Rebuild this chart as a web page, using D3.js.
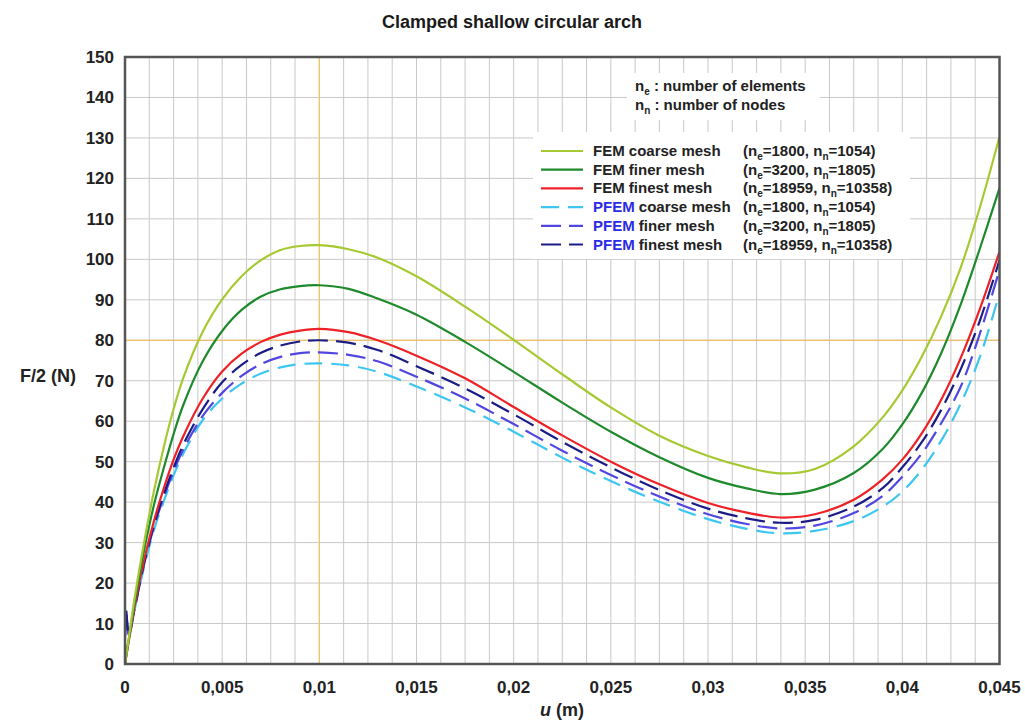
<!DOCTYPE html>
<html>
<head>
<meta charset="utf-8">
<script src="https://cdn.jsdelivr.net/npm/d3@7/dist/d3.min.js"></script>
<style>
  body { margin: 0; background: #fff; }
  svg { display: block; font-family: Arial, "Liberation Sans", sans-serif; }
</style>
</head>
<body>
<div id="chart"></div>
<script>
// displacement u (m) shared by all curves
const uGrid = [0, 0.00005, 0.0002, 0.0005, 0.001, 0.0015, 0.002, 0.0025, 0.003, 0.004,
    0.005, 0.006, 0.007, 0.008, 0.009, 0.010, 0.0115, 0.013, 0.015, 0.0175,
    0.02, 0.0225, 0.025, 0.0275, 0.03, 0.032, 0.0337, 0.0355, 0.0375, 0.039,
    0.04, 0.041, 0.042, 0.043, 0.044, 0.045];

// F/2 (N)
const femCoarse = [0, 1.7, 6.6, 16.5, 30.5, 43, 53.7, 63, 70.7, 82.1,
    90.1, 95.8, 99.8, 102.3, 103.3, 103.5, 102.5, 100.4, 95.8, 88.3,
    80.1, 71.6, 63.4, 56.4, 51.4, 48.6, 47.1, 48.2, 53.8, 61,
    67.6, 75.9, 85.9, 97.9, 113, 130.3];
const femFiner = [0, 1.6, 6.2, 15.3, 28.5, 39.5, 48.5, 56.8, 64, 74.8,
    82.3, 87.5, 90.8, 92.6, 93.4, 93.6, 92.7, 90.3, 86.3, 79.6,
    72.2, 64.6, 57.4, 51.1, 46.0, 43.4, 42.0, 43.1, 47.2, 53.2,
    59.2, 67, 76.8, 88.8, 102.8, 117.6];
const femFinest = [0, 1.5, 5.8, 14.3, 26, 35.5, 43.5, 50.5, 56.3, 65.6,
    72.3, 76.7, 79.6, 81.4, 82.4, 82.8, 82.0, 80.0, 76.2, 70.6,
    63.5, 56.5, 50.0, 44.4, 39.8, 37.4, 36.2, 37.0, 40.6, 45.7,
    50.5, 57, 65.3, 75.6, 87.9, 101.9];
const pfemCoarse = [0, 1.5, 6, 13.5, 24.3, 33.3, 40.3, 46.6, 52, 60.3,
    65.6, 69.3, 71.8, 73.3, 74.1, 74.3, 73.8, 72.2, 68.6, 63.4,
    57.4, 51.0, 45.2, 40.1, 35.8, 33.4, 32.3, 32.9, 35.3, 38.9,
    42.6, 48, 55.2, 64.3, 76, 91.6];
const pfemFiner = [0, 13, 7, 13.8, 25, 34, 41.3, 47.6, 53, 61.3,
    67, 71.2, 74.1, 75.9, 76.8, 77, 76.4, 74.8, 71.0, 65.6,
    59.3, 52.7, 46.7, 41.4, 37.0, 34.6, 33.5, 34.2, 37.3, 41.6,
    46.3, 52, 59.5, 68.5, 81.8, 97.4];
const pfemFinest = [0, 13.5, 7.5, 14, 25.3, 34.5, 42, 48.5, 54.2, 63,
    69.6, 73.9, 76.9, 78.7, 79.7, 80, 79.4, 77.6, 73.6, 68.1,
    61.7, 54.9, 48.6, 43.0, 38.4, 36.0, 34.9, 35.6, 38.9, 43.5,
    48.6, 54.8, 62.8, 72.8, 85, 99.8];

// legend info
const methods = ['FEM', 'FEM', 'FEM', 'PFEM', 'PFEM', 'PFEM'];
const meshNames = ['coarse mesh', 'finer mesh', 'finest mesh', 'coarse mesh', 'finer mesh', 'finest mesh'];
const nElements = [1800, 3200, 18959, 1800, 3200, 18959];
const nNodes = [1054, 1805, 10358, 1054, 1805, 10358];

// axis ticks
const xTicks = [0, 0.005, 0.01, 0.015, 0.02, 0.025, 0.03, 0.035, 0.04, 0.045];
const xTickLabels = ['0', '0,005', '0,01', '0,015', '0,02', '0,025', '0,03', '0,035', '0,04', '0,045'];
const yTicks = [0, 10, 20, 30, 40, 50, 60, 70, 80, 90, 100, 110, 120, 130, 140, 150];

const series = [femCoarse, femFiner, femFinest, pfemCoarse, pfemFiner, pfemFinest];
const colors = ['#a6c932', '#1f8a2c', '#ee2226', '#3cc6f0', '#5246e0', '#1c1c86'];
const dashes = [null, null, null, '18,9', '20,8', '20,8'];
// dashed first, solid on top
const drawOrder = [3, 4, 5, 2, 1, 0];

const W = 1025, H = 722;
const svg = d3.select('#chart').append('svg').attr('width', W).attr('height', H);

const x = d3.scaleLinear().domain([0, 0.045]).range([125, 999.5]);
const y = d3.scaleLinear().domain([0, 150]).range([664, 57]);

// title
svg.append('text')
    .attr('x', 512).attr('y', 28)
    .attr('text-anchor', 'middle')
    .attr('font-size', '18px').attr('font-weight', 'bold').attr('fill', '#1a1a1a')
    .text('Clamped shallow circular arch');

// grid
const grid = svg.append('g');
const minorX = d3.range(0, 0.045 + 1e-9, 0.00125);
grid.selectAll('line.vx').data(minorX).join('line')
    .attr('x1', d => x(d)).attr('x2', d => x(d))
    .attr('y1', y(0)).attr('y2', y(150))
    .attr('stroke', '#c9c9c9').attr('stroke-width', 1);
grid.selectAll('line.hy').data(yTicks).join('line')
    .attr('x1', x(0)).attr('x2', x(0.045))
    .attr('y1', d => y(d)).attr('y2', d => y(d))
    .attr('stroke', '#c9c9c9').attr('stroke-width', 1);

// reference lines
svg.append('line')
    .attr('x1', x(0.01)).attr('x2', x(0.01)).attr('y1', y(0)).attr('y2', y(150))
    .attr('stroke', '#f2c55a').attr('stroke-width', 1.2);
svg.append('line')
    .attr('x1', x(0)).attr('x2', x(0.045)).attr('y1', y(80)).attr('y2', y(80))
    .attr('stroke', '#f2b94a').attr('stroke-width', 1.2);

// white boxes behind notes and legend
svg.append('rect').attr('x', 627).attr('y', 73).attr('width', 193).attr('height', 47).attr('fill', '#fff');
svg.append('rect').attr('x', 533).attr('y', 132).attr('width', 377).attr('height', 127).attr('fill', '#fff');

// curves
const line = d3.line()
    .x((d, i) => x(uGrid[i]))
    .y(d => y(d))
    .curve(d3.curveCatmullRom.alpha(0.5));

svg.append('clipPath').attr('id', 'plotclip')
    .append('rect').attr('x', x(0)).attr('y', y(150)).attr('width', x(0.045) - x(0)).attr('height', y(0) - y(150));

const curves = svg.append('g').attr('clip-path', 'url(#plotclip)');
drawOrder.forEach(k => {
    curves.append('path')
        .attr('d', line(series[k]))
        .attr('fill', 'none')
        .attr('stroke', colors[k])
        .attr('stroke-width', 2.2)
        .attr('stroke-linejoin', 'round')
        .attr('stroke-dasharray', dashes[k]);
});

// frame
svg.append('rect')
    .attr('x', x(0)).attr('y', y(150))
    .attr('width', x(0.045) - x(0)).attr('height', y(0) - y(150))
    .attr('fill', 'none').attr('stroke', '#555').attr('stroke-width', 2.5);

// tick labels
svg.selectAll('text.xt').data(xTicks).join('text')
    .attr('x', d => x(d)).attr('y', 693)
    .attr('text-anchor', 'middle')
    .attr('font-size', '17px').attr('font-weight', 'bold').attr('fill', '#222')
    .text((d, i) => xTickLabels[i]);
svg.selectAll('text.yt').data(yTicks).join('text')
    .attr('x', 114).attr('y', d => y(d) + 6)
    .attr('text-anchor', 'end')
    .attr('font-size', '17px').attr('font-weight', 'bold').attr('fill', '#222')
    .text(d => d);

// axis titles
const xl = svg.append('text')
    .attr('x', 562).attr('y', 716)
    .attr('text-anchor', 'middle')
    .attr('font-size', '18px').attr('font-weight', 'bold').attr('fill', '#222');
xl.append('tspan').attr('font-style', 'italic').text('u');
xl.append('tspan').text(' (m)');

svg.append('text')
    .attr('x', 76).attr('y', 382)
    .attr('text-anchor', 'end')
    .attr('font-size', '18px').attr('font-weight', 'bold').attr('fill', '#222')
    .text('F/2 (N)');

// "n" with a subscript
function subN(sel, sub, size) {
    sel.append('tspan').text('n');
    sel.append('tspan').attr('font-size', size).attr('dy', 4).text(sub);
    return sel.append('tspan').attr('dy', -4);
}

// notes
const notes = [['e', ' : number of elements'], ['n', ' : number of nodes']];
notes.forEach((nt, i) => {
    const t = svg.append('text')
        .attr('x', 635).attr('y', 91 + i * 18.5)
        .attr('font-size', '15px').attr('font-weight', 'bold').attr('fill', '#222');
    subN(t, nt[0], '10px').text(nt[1]);
});

// legend
const legend = svg.append('g');
methods.forEach((m, i) => {
    const ly = 151 + i * 18.7;
    legend.append('line')
        .attr('x1', 541).attr('x2', 583).attr('y1', ly).attr('y2', ly)
        .attr('stroke', colors[i]).attr('stroke-width', 2.2)
        .attr('stroke-dasharray', dashes[i]);
    const t = legend.append('text')
        .attr('x', 593).attr('y', ly + 5)
        .attr('font-size', '15px').attr('font-weight', 'bold').attr('fill', '#222');
    t.append('tspan').attr('fill', m === 'PFEM' ? '#2b2be6' : '#222').text(m);
    t.append('tspan').text(' ' + meshNames[i]);

    const t2 = legend.append('text')
        .attr('x', 743).attr('y', ly + 5)
        .attr('font-size', '15px').attr('font-weight', 'bold').attr('fill', '#222');
    t2.append('tspan').text('(');
    subN(t2, 'e', '10px').text('=' + nElements[i] + ', ');
    subN(t2, 'n', '10px').text('=' + nNodes[i] + ')');
});
</script>
</body>
</html>
